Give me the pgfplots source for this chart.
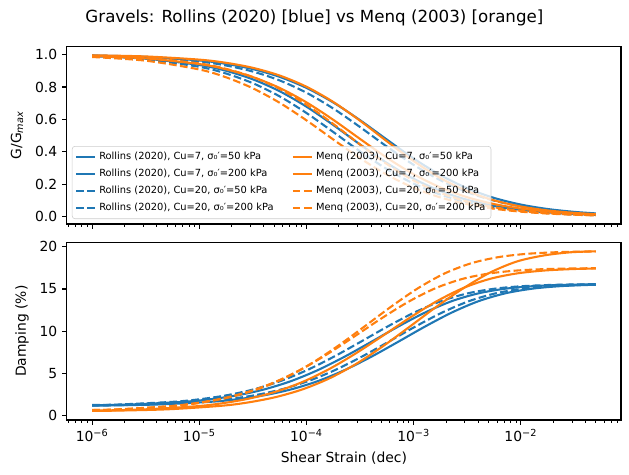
\documentclass[border=0pt]{standalone}
\usepackage{fontspec}
\setmainfont{DejaVu Sans}
\usepackage{pgfplots}
\usepackage{pgfplotstable}
\pgfplotsset{compat=1.18}
\definecolor{mblue}{HTML}{1F77B4}
\definecolor{morange}{HTML}{FF7F0E}

% G/Gmax vs log10(shear strain)
\pgfplotstableread{
L      R1     R2     R3     R4     M1     M2     M3     M4
-6     0.9902 0.9946 0.9884 0.9936 0.9909 0.9959 0.9853 0.9926
-5.5   0.9747 0.9860 0.9700 0.9834 0.9768 0.9887 0.9626 0.9797
-5     0.9360 0.9640 0.9247 0.9575 0.9418 0.9691 0.9083 0.9455
-4.75  0.9001 0.9429 0.8834 0.9328 0.9094 0.9495 0.8600 0.9122
-4.5   0.8475 0.9106 0.8236 0.8954 0.8616 0.9185 0.7922 0.8616
-4.25  0.7741 0.8627 0.7423 0.8407 0.7944 0.8710 0.7028 0.7886
-4     0.6788 0.7948 0.6397 0.7649 0.7055 0.8018 0.5945 0.6910
-3.75  0.5658 0.7048 0.5226 0.6674 0.5978 0.7080 0.4765 0.5726
-3.5   0.4455 0.5955 0.4030 0.5530 0.4798 0.5923 0.3609 0.4453
-3.25  0.3313 0.4759 0.2939 0.4327 0.3639 0.4655 0.2594 0.3249
-3     0.2340 0.3589 0.2042 0.3199 0.2620 0.3429 0.1785 0.2237
-2.75  0.1585 0.2566 0.1366 0.2248 0.1805 0.2382 0.1188 0.1473
-2.5   0.1040 0.1755 0.0889 0.1517 0.1202 0.1578 0.0772 0.0938
-2.25  0.0668 0.1160 0.0568 0.0993 0.0781 0.1009 0.0493 0.0585
-2     0.0423 0.0749 0.0358 0.0637 0.0500 0.0631 0.0312 0.0359
-1.75  0.0265 0.0475 0.0224 0.0402 0.0316 0.0388 0.0196 0.0218
-1.5   0.0165 0.0298 0.0139 0.0252 0.0198 0.0236 0.0122 0.0132
-1.301 0.0113 0.0205 0.0095 0.0173 0.0137 0.0158 0.0084 0.0088
}\Gtab

\pgfplotsset{
  blueS/.style={color=mblue, line width=1.5pt, solid},
  blueD/.style={color=mblue, line width=1.5pt, dash pattern=on 5.55pt off 2.4pt},
  orS/.style={color=morange, line width=1.5pt, solid},
  orD/.style={color=morange, line width=1.5pt, dash pattern=on 5.55pt off 2.4pt},
  common/.style={
    scale only axis, width=398.9pt, height=127.8pt,
    xmin=-6.235, xmax=-1.066,
    xtick={-6,-5,-4,-3,-2},
    minor xtick={-6.2218,-6.1549,-6.0969,-6.0458,
      -5.6990,-5.5229,-5.3979,-5.3010,-5.2218,-5.1549,-5.0969,-5.0458,
      -4.6990,-4.5229,-4.3979,-4.3010,-4.2218,-4.1549,-4.0969,-4.0458,
      -3.6990,-3.5229,-3.3979,-3.3010,-3.2218,-3.1549,-3.0969,-3.0458,
      -2.6990,-2.5229,-2.3979,-2.3010,-2.2218,-2.1549,-2.0969,-2.0458,
      -1.6990,-1.5229,-1.3979,-1.3010,-1.2218,-1.1549,-1.0969},
    xtick pos=bottom, ytick pos=left, tick align=outside,
    major tick length=3.5pt, minor tick length=2pt,
    every major tick/.style={black, line width=0.8pt},
    every minor tick/.style={black, line width=0.6pt},
    axis line style={line width=0.8pt},
    tick label style={font=\fontsize{10}{12}\selectfont},
    label style={font=\fontsize{10}{12}\selectfont},
    clip=true,
    legend image code/.code={\draw[##1] (0pt,0pt) -- (14pt,0pt);},
  }
}

\begin{document}
\begin{tikzpicture}[x=1pt,y=1pt]
\useasboundingbox (0,0) rectangle (452.9,342);

\node[font=\fontsize{12}{14}\selectfont] at (226.4,329) {Gravels: Rollins (2020) [blue] vs Menq (2003) [orange]};

% ---------------- top: G/Gmax
\begin{axis}[common, at={(48.2pt,180.7pt)}, anchor=south west,
  ymin=-0.045, ymax=1.05,
  ytick={0,0.2,0.4,0.6,0.8,1}, yticklabels={0.0,0.2,0.4,0.6,0.8,1.0},
  xticklabels={},
  ylabel={G/G\textsubscript{\textit{max}}},
  every axis y label/.style={at={(axis description cs:-0.09,0.5)}, rotate=90, anchor=center},
  legend columns=2,
  legend cell align=left,
  legend style={at={(axis description cs:0.009,0.028)}, anchor=south west,
    draw=black!20, fill=white, fill opacity=0.8, text opacity=1,
    rounded corners=2pt, font=\fontsize{7.1}{8}\selectfont,
    inner xsep=2pt, inner ysep=1.5pt,
    nodes={inner xsep=2pt, inner ysep=2.7pt},
    /tikz/every even column/.append style={column sep=11pt}},
]
\addplot[blueS, smooth, forget plot] table[x=L, y=R1] {\Gtab};
\addplot[blueS, smooth, forget plot] table[x=L, y=R2] {\Gtab};
\addplot[blueD, smooth, forget plot] table[x=L, y=R3] {\Gtab};
\addplot[blueD, smooth, forget plot] table[x=L, y=R4] {\Gtab};
\addplot[orS, smooth, forget plot] table[x=L, y=M1] {\Gtab};
\addplot[orS, smooth, forget plot] table[x=L, y=M2] {\Gtab};
\addplot[orD, smooth, forget plot] table[x=L, y=M3] {\Gtab};
\addplot[orD, smooth, forget plot] table[x=L, y=M4] {\Gtab};

\addlegendimage{blueS}\addlegendentry{Rollins (2020), Cu=7, σ₀′=50 kPa}
\addlegendimage{orS}\addlegendentry{Menq (2003), Cu=7, σ₀′=50 kPa}
\addlegendimage{blueS}\addlegendentry{Rollins (2020), Cu=7, σ₀′=200 kPa}
\addlegendimage{orS}\addlegendentry{Menq (2003), Cu=7, σ₀′=200 kPa}
\addlegendimage{blueD}\addlegendentry{Rollins (2020), Cu=20, σ₀′=50 kPa}
\addlegendimage{orD}\addlegendentry{Menq (2003), Cu=20, σ₀′=50 kPa}
\addlegendimage{blueD}\addlegendentry{Rollins (2020), Cu=20, σ₀′=200 kPa}
\addlegendimage{orD}\addlegendentry{Menq (2003), Cu=20, σ₀′=200 kPa}
\end{axis}

% ---------------- bottom: damping
\begin{axis}[common, at={(48.2pt,39.6pt)}, anchor=south west,
  ymin=-0.5, ymax=20.5,
  ytick={0,5,10,15,20}, yticklabels={0,5,10,15,20},
  xticklabels={10\textsuperscript{−6},10\textsuperscript{−5},10\textsuperscript{−4},10\textsuperscript{−3},10\textsuperscript{−2}},
  xlabel={Shear Strain (dec)},
  ylabel={Damping (\%)},
  every axis y label/.style={at={(axis description cs:-0.081,0.5)}, rotate=90, anchor=center},
  every axis x label/.style={at={(axis description cs:0.5,-0.215)}, anchor=center},
]
% Rollins Cu=7, 50 kPa
\addplot[blueS, smooth] coordinates {(-6,1.244)(-5.644,1.333)(-5.144,1.651)(-4.894,1.956)(-4.644,2.424)(-4.394,3.117)(-4.144,4.099)(-3.894,5.402)(-3.644,6.990)(-3.394,8.754)(-3.144,10.553)(-2.894,12.212)(-2.644,13.560)(-2.394,14.487)(-2.144,15.034)(-1.894,15.324)(-1.644,15.467)(-1.445,15.525)(-1.301,15.56)};
% Rollins Cu=7, 200 kPa
\addplot[blueS, smooth] coordinates {(-6,1.195)(-5.894,1.208)(-5.394,1.333)(-4.894,1.651)(-4.644,1.956)(-4.394,2.424)(-4.144,3.117)(-3.894,4.099)(-3.644,5.402)(-3.394,6.990)(-3.144,8.754)(-2.894,10.553)(-2.644,12.212)(-2.394,13.560)(-2.144,14.487)(-1.894,15.034)(-1.644,15.324)(-1.394,15.467)(-1.301,15.494)};
% Rollins Cu=20, 50 kPa
\addplot[blueD, smooth] coordinates {(-6,1.269)(-5.744,1.333)(-5.244,1.651)(-4.994,1.956)(-4.744,2.424)(-4.494,3.117)(-4.244,4.099)(-3.994,5.402)(-3.744,6.990)(-3.494,8.754)(-3.244,10.553)(-2.994,12.212)(-2.744,13.560)(-2.494,14.487)(-2.244,15.034)(-1.994,15.324)(-1.744,15.467)(-1.545,15.525)(-1.301,15.565)};
% Rollins Cu=20, 200 kPa
\addplot[blueD, smooth] coordinates {(-6,1.207)(-5.484,1.333)(-4.984,1.651)(-4.734,1.956)(-4.484,2.424)(-4.234,3.117)(-3.984,4.099)(-3.734,5.402)(-3.484,6.990)(-3.234,8.754)(-2.984,10.553)(-2.734,12.212)(-2.484,13.560)(-2.234,14.487)(-1.984,15.034)(-1.734,15.324)(-1.484,15.467)(-1.301,15.52)};
% Menq Cu=7, 50 kPa
\addplot[orS, smooth] coordinates {(-6,0.604)(-5.539,0.738)(-5.039,1.112)(-4.789,1.471)(-4.539,2.020)(-4.289,2.834)(-4.039,3.988)(-3.789,5.518)(-3.539,7.385)(-3.289,9.457)(-3.039,11.570)(-2.789,13.520)(-2.539,15.103)(-2.289,16.193)(-2.039,16.835)(-1.789,17.175)(-1.539,17.344)(-1.340,17.412)(-1.301,17.42)};
% Menq Cu=7, 200 kPa
\addplot[orS, smooth] coordinates {(-6,0.576)(-5.79,0.603)(-5.29,0.766)(-4.79,1.184)(-4.54,1.585)(-4.29,2.199)(-4.04,3.109)(-3.79,4.399)(-3.54,6.109)(-3.29,8.195)(-3.04,10.511)(-2.79,12.873)(-2.54,15.052)(-2.29,16.921)(-2.04,18.239)(-1.79,18.957)(-1.54,19.337)(-1.301,19.45)};
% Menq Cu=20, 50 kPa
\addplot[orD, smooth] coordinates {(-6,0.673)(-5.714,0.766)(-5.214,1.184)(-4.964,1.585)(-4.714,2.199)(-4.464,3.109)(-4.214,4.399)(-3.964,6.109)(-3.714,8.195)(-3.464,10.511)(-3.214,12.873)(-2.964,15.052)(-2.714,16.821)(-2.464,18.039)(-2.214,18.757)(-1.964,19.137)(-1.714,19.325)(-1.515,19.401)(-1.301,19.45)};
% Menq Cu=20, 200 kPa
\addplot[orD, smooth] coordinates {(-6,0.679)(-5.794,0.738)(-5.294,1.112)(-5.044,1.471)(-4.794,2.020)(-4.544,2.834)(-4.294,3.988)(-4.044,5.518)(-3.794,7.385)(-3.544,9.457)(-3.294,11.570)(-3.044,13.520)(-2.794,15.103)(-2.544,16.193)(-2.294,16.835)(-2.044,17.175)(-1.794,17.344)(-1.595,17.412)(-1.301,17.46)};
\end{axis}
\end{tikzpicture}
\end{document}
